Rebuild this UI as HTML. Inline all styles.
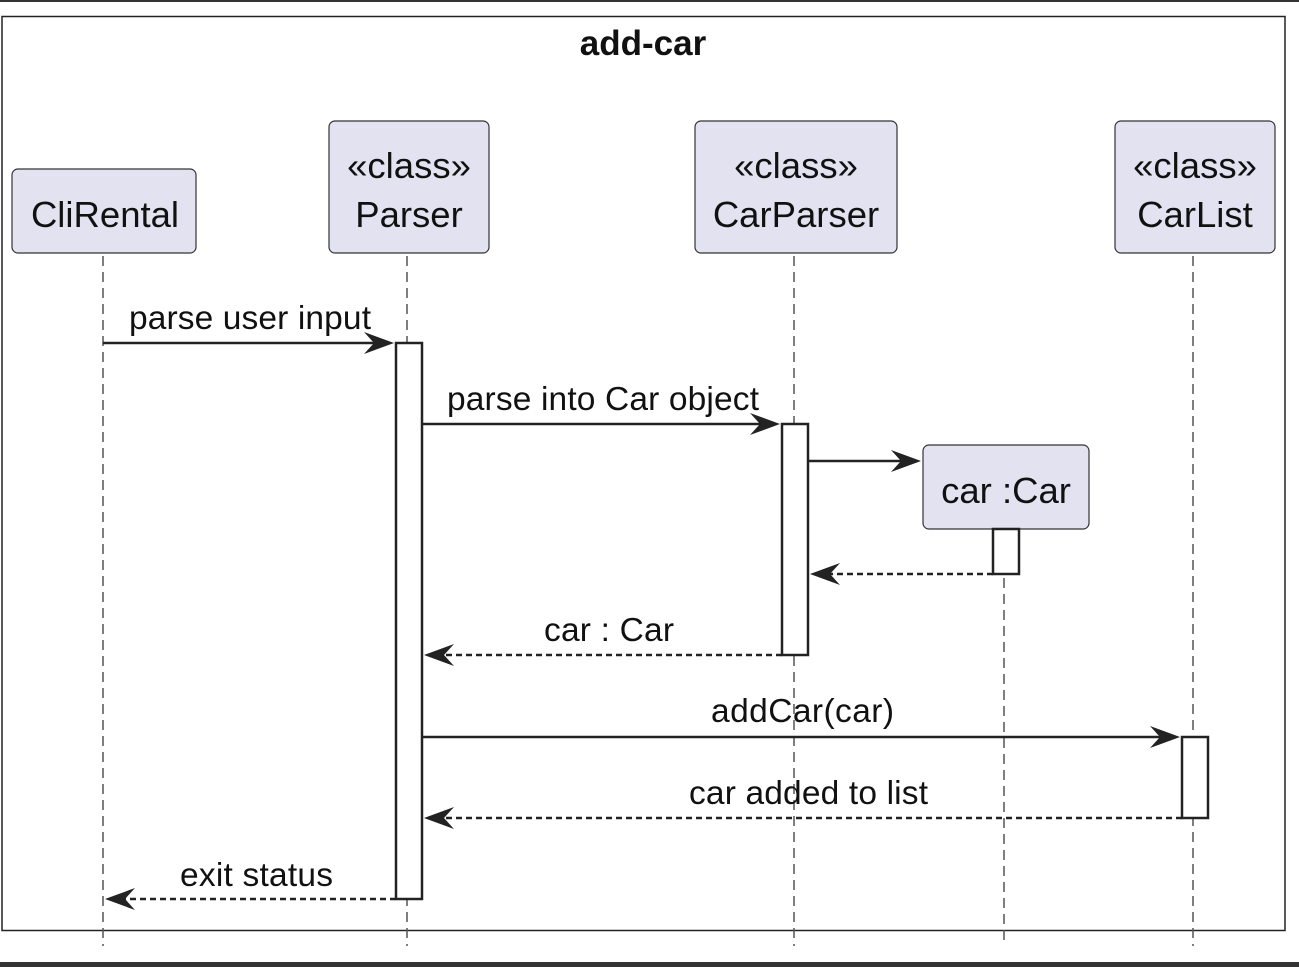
<!DOCTYPE html>
<html><head><meta charset="utf-8"><style>
html,body{margin:0;padding:0;background:#fff;}
svg{display:block;}
text{font-family:"Liberation Sans",sans-serif;fill:#111;}
</style></head><body>
<svg width="1299" height="967" viewBox="0 0 1299 967" xmlns="http://www.w3.org/2000/svg">
<rect x="0" y="0" width="1299" height="2" fill="#333"/>
<rect x="2" y="16.5" width="1283" height="914" fill="none" stroke="#222" stroke-width="1.5"/>
<rect x="0" y="962" width="1299" height="5" fill="#333"/>
<text x="643" y="55" font-size="35" font-weight="bold" text-anchor="middle">add-car</text>
<g stroke="#555" stroke-width="1.5" stroke-dasharray="10,6">
<line x1="103" y1="256" x2="103" y2="946"/>
<line x1="407" y1="256" x2="407" y2="946"/>
<line x1="794" y1="256" x2="794" y2="946"/>
<line x1="1004" y1="530" x2="1004" y2="946"/>
<line x1="1193" y1="256" x2="1193" y2="946"/>
</g>
<g fill="#e3e2f1" stroke="#333" stroke-width="1.2">
<rect x="12" y="169" width="184" height="84" rx="6"/>
<rect x="329" y="121" width="160" height="132" rx="6"/>
<rect x="695" y="121" width="202" height="132" rx="6"/>
<rect x="1115" y="121" width="160" height="132" rx="6"/>
<rect x="923" y="445" width="166" height="84" rx="6"/>
</g>
<g font-size="36.5" text-anchor="middle">
<text x="105" y="227">CliRental</text>
<text x="409" y="178">«class»</text><text x="409" y="227">Parser</text>
<text x="796" y="178">«class»</text><text x="796" y="227">CarParser</text>
<text x="1195" y="178">«class»</text><text x="1195" y="227">CarList</text>
<text x="1006" y="503">car :Car</text>
</g>
<g fill="#fff" stroke="#222" stroke-width="2.5">
<rect x="396" y="343" width="26" height="556"/>
<rect x="782" y="424" width="26" height="231"/>
<rect x="993" y="529" width="26" height="45"/>
<rect x="1182" y="737" width="26" height="81"/>
</g>
<g stroke="#222" stroke-width="2.4" fill="none">
<line x1="103" y1="343" x2="385" y2="343"/>
<line x1="422" y1="424" x2="772" y2="424"/>
<line x1="808" y1="461" x2="912" y2="461"/>
<line x1="422" y1="737" x2="1172" y2="737"/>
<g stroke-dasharray="6,4">
<line x1="993" y1="574" x2="818" y2="574"/>
<line x1="782" y1="655" x2="432" y2="655"/>
<line x1="1182" y1="818" x2="432" y2="818"/>
<line x1="396" y1="899" x2="113" y2="899"/>
</g>
</g>
<g fill="#222">
<path d="M394,343 L364,332 L374,343 L364,354 Z"/>
<path d="M780,424 L750,413 L760,424 L750,435 Z"/>
<path d="M921,461 L891,450 L901,461 L891,472 Z"/>
<path d="M1180,737 L1150,726 L1160,737 L1150,748 Z"/>
<path d="M810,574 L840,563 L830,574 L840,585 Z"/>
<path d="M424,655 L454,644 L444,655 L454,666 Z"/>
<path d="M424,818 L454,807 L444,818 L454,829 Z"/>
<path d="M105,899 L135,888 L125,899 L135,910 Z"/>
</g>
<g font-size="33.5">
<text x="129" y="329" textLength="242">parse user input</text>
<text x="447" y="410" textLength="312">parse into Car object</text>
<text x="544" y="641" textLength="130">car : Car</text>
<text x="711" y="722" textLength="183">addCar(car)</text>
<text x="689" y="804" textLength="239">car added to list</text>
<text x="180" y="886" textLength="153">exit status</text>
</g>
</svg>
</body></html>
